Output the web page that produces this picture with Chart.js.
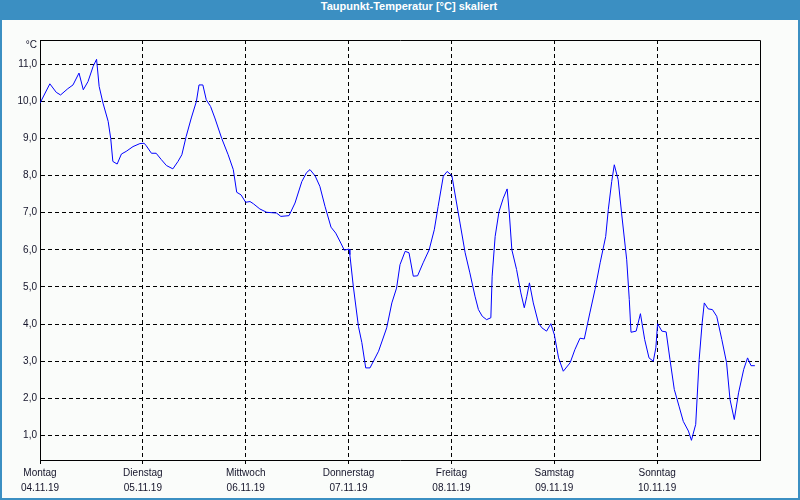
<!DOCTYPE html>
<html>
<head>
<meta charset="utf-8">
<script src="https://cdn.jsdelivr.net/npm/chart.js@4.4.1/dist/chart.umd.min.js"></script>
<style>
    html, body { margin: 0; padding: 0; }
    body { width: 800px; height: 500px; background: #3b8fc2; position: relative; overflow: hidden; }
    #title {
        position: absolute; left: 0; top: 0; width: 818px; height: 20px;
        line-height: 19px; text-align: center; color: #fff;
        font: bold 11px "Liberation Sans", Arial, sans-serif;
    }
    #wrap { position: absolute; left: 2px; top: 20px; width: 796px; height: 478px; background: #fafcfa; }
</style>
</head>
<body>
<div id="title">Taupunkt-Temperatur [°C] skaliert</div>
<div id="wrap"><canvas id="dewChart" width="796" height="478"></canvas></div>
<script>
// hours since Monday 04.11.19 00:00
const hours = [
    0, 2.3, 3.8, 4.8, 6.5, 7.7, 9.1, 10.1, 11.2, 12.4, 13.2, 13.8, 14.7, 15.9, 16.5, 17.0, 18.0, 19.0, 20.1, 21.7,
    23.3, 24.3, 24.8, 26.0, 27.1, 28.3, 29.5, 31.0, 32.2, 33.1, 34.1, 35.3, 36.5, 37.1, 38.0, 38.8, 39.8, 40.8, 42.4, 43.9,
    45.1, 45.9, 46.9, 48.0, 49.0, 49.8, 51.3, 52.9, 55.2, 56.2, 58.1, 59.5, 61.1, 62.2, 63.0, 64.2, 65.3, 66.5, 67.9, 69.0,
    70.2, 71.0, 72.1, 72.3, 73.1, 74.3, 75.1, 76.0, 77.0, 79.0, 80.9, 82.1, 83.2, 84.0, 85.2, 86.1, 87.1, 88.1, 89.4, 90.8,
    92.0, 92.9, 94.1, 95.0, 96.1, 96.8, 98.0, 99.2, 100.3, 101.5, 102.3, 103.2, 104.2, 105.2, 105.5, 106.2, 107.1, 108.1, 109.0, 109.5,
    110.1, 111.2, 112.2, 113.0, 113.6, 114.2, 115.1, 116.3, 117.1, 118.2, 119.2, 120.0, 121.0, 122.1, 123.7, 124.8, 126.0, 127.0, 128.3, 129.5,
    130.7, 132.0, 132.6, 133.4, 134.0, 134.9, 135.7, 136.9, 137.5, 137.9, 139.1, 140.1, 141.1, 142.1, 143.1, 143.7, 144.1, 145.1, 146.1, 147.0,
    148.0, 149.1, 150.1, 151.3, 152.0, 153.0, 153.8, 154.5, 155.0, 155.9, 156.9, 157.9, 159.1, 160.2, 161.0, 162.0, 163.0, 164.2, 165.1, 165.9,
    166.8,
];

const dewPoint = [
    9.95, 10.47, 10.24, 10.17, 10.34, 10.44, 10.76, 10.31, 10.53, 10.94, 11.13, 10.4, 9.95, 9.46, 9.0, 8.38, 8.31, 8.58, 8.65, 8.78,
    8.86, 8.87, 8.8, 8.6, 8.6, 8.43, 8.27, 8.18, 8.38, 8.56, 9.05, 9.55, 10.0, 10.44, 10.44, 10.04, 9.86, 9.55, 9.0, 8.56,
    8.16, 7.55, 7.48, 7.28, 7.3, 7.24, 7.1, 7.01, 6.99, 6.9, 6.92, 7.26, 7.84, 8.08, 8.16, 7.99, 7.71, 7.17, 6.61, 6.45,
    6.18, 5.99, 6.02, 5.87, 5.02, 3.94, 3.5, 2.82, 2.82, 3.27, 3.9, 4.57, 4.97, 5.6, 5.96, 5.92, 5.29, 5.3, 5.65, 6.0,
    6.54, 7.17, 7.98, 8.11, 8.0, 7.53, 6.72, 5.92, 5.38, 4.75, 4.39, 4.21, 4.12, 4.17, 5.29, 6.36, 7.03, 7.39, 7.64, 6.99,
    6.0, 5.47, 4.84, 4.44, 4.75, 5.11, 4.57, 4.03, 3.9, 3.81, 4.01, 3.72, 3.09, 2.73, 2.96, 3.31, 3.62, 3.6, 4.3, 4.93,
    5.65, 6.36, 7.08, 7.84, 8.29, 7.89, 6.99, 5.73, 4.66, 3.78, 3.81, 4.28, 3.58, 3.09, 3.0, 3.36, 4.01, 3.81, 3.79, 3.04,
    2.24, 1.79, 1.38, 1.12, 0.87, 1.3, 3.04, 4.03, 4.57, 4.41, 4.39, 4.21, 3.58, 2.96, 1.97, 1.43, 2.15, 2.78, 3.09, 2.88,
    2.88,
];

const dayNames = ["Montag", "Dienstag", "Mittwoch", "Donnerstag", "Freitag", "Samstag", "Sonntag"];
const dayDates = ["04.11.19", "05.11.19", "06.11.19", "07.11.19", "08.11.19", "09.11.19", "10.11.19"];
const yTickValues = [1, 2, 3, 4, 5, 6, 7, 8, 9, 10, 11];
const unitLabel = "°C";

const textColor = "#14142a";
const labelFont = { family: "'Liberation Sans', Arial, sans-serif", size: 10 };

// Top / right frame lines and unit label
const framePlugin = {
    id: "frame",
    afterDraw(chart) {
        const { ctx, chartArea } = chart;
        const l = Math.round(chartArea.left) + 0.5;
        const r = Math.round(chartArea.right) + 0.5;
        const t = Math.round(chartArea.top) + 0.5;
        const b = Math.round(chartArea.bottom) + 0.5;
        ctx.save();
        ctx.strokeStyle = "#000";
        ctx.lineWidth = 1;
        ctx.beginPath();
        ctx.moveTo(l, t);
        ctx.lineTo(r, t);
        ctx.lineTo(r, b);
        ctx.stroke();
        ctx.fillStyle = textColor;
        ctx.font = "10px 'Liberation Sans', Arial, sans-serif";
        ctx.textAlign = "right";
        ctx.textBaseline = "middle";
        ctx.fillText(unitLabel, chartArea.left - 3, chartArea.top + 5);
        ctx.restore();
    },
};

new Chart(document.getElementById("dewChart"), {
    type: "line",
    data: {
        datasets: [
            {
                label: "Taupunkt",
                data: hours.map((h, i) => ({ x: h, y: dewPoint[i] })),
                borderColor: "#0000ff",
                borderWidth: 1,
                pointRadius: 0,
                tension: 0,
                fill: false,
            },
        ],
    },
    options: {
        responsive: false,
        animation: false,
        layout: {
            padding: { top: 20, right: 38, left: 0, bottom: 0 },
        },
        plugins: {
            legend: { display: false },
            tooltip: { enabled: false },
        },
        scales: {
            x: {
                type: "linear",
                min: 0,
                max: dayNames.length * 24,
                afterBuildTicks: (scale) => {
                    // one tick per day start, none at the right edge
                    scale.ticks = dayNames.map((_, i) => ({ value: i * 24 }));
                },
                afterFit: (scale) => {
                    scale.height = 38;
                },
                grid: {
                    color: "#000",
                    lineWidth: 1,
                    drawTicks: true,
                    tickLength: 4,
                    tickColor: "#000",
                },
                border: {
                    display: true,
                    color: "#000",
                    width: 1,
                    dash: [4, 3],
                },
                ticks: {
                    autoSkip: false,
                    maxRotation: 0,
                    padding: 2,
                    color: textColor,
                    font: { ...labelFont, lineHeight: 1.5 },
                    callback: (value) => {
                        const i = Math.round(value / 24);
                        return [dayNames[i], dayDates[i]];
                    },
                },
            },
            y: {
                min: 0.34,
                max: 11.65,
                afterBuildTicks: (scale) => {
                    scale.ticks = yTickValues.map((v) => ({ value: v }));
                },
                afterFit: (scale) => {
                    scale.width = 38;
                },
                grid: {
                    color: "#000",
                    lineWidth: 1,
                    drawTicks: false,
                },
                border: {
                    display: true,
                    color: "#000",
                    width: 1,
                    dash: [4, 3],
                },
                ticks: {
                    padding: 3,
                    color: textColor,
                    font: labelFont,
                    callback: (value) => value.toFixed(1).replace(".", ","),
                },
            },
        },
    },
    plugins: [framePlugin],
});
</script>
</body>
</html>
